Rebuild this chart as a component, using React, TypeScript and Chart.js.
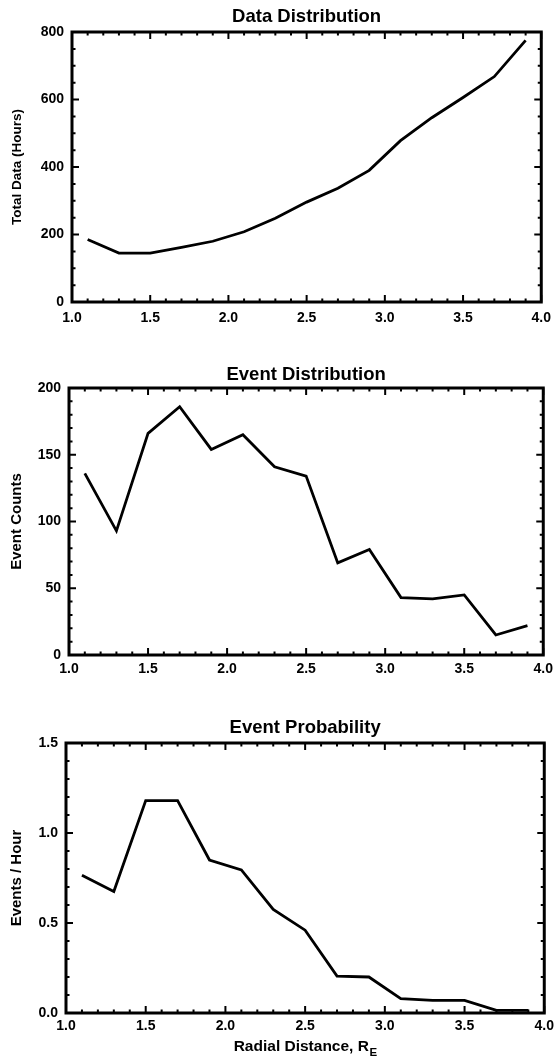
import React, { useEffect, useRef } from "react";
import { Chart, registerables } from "chart.js";

Chart.register(...registerables);

// ---- data ----
const radialDistance = [1.1, 1.3, 1.5, 1.7, 1.9, 2.1, 2.3, 2.5, 2.7, 2.9, 3.1, 3.3, 3.5, 3.7, 3.9];
const totalDataHours = [185, 145, 145, 162, 180, 208, 248, 296, 337, 390, 478, 546, 606, 668, 775];
const eventCounts = [136, 93, 166, 186, 154, 165, 141, 134, 69, 79, 43, 42, 45, 15, 22];
const eventsPerHour = [0.765, 0.675, 1.18, 1.18, 0.85, 0.795, 0.575, 0.46, 0.205, 0.2, 0.08, 0.07, 0.07, 0.015, 0.015];

const xMin = 1.0;
const xMax = 4.0;
const xMajorStep = 0.5;
const xMinorStep = 0.1;

const panelTitles = ["Data Distribution", "Event Distribution", "Event Probability"];
const yTitles = ["Total Data (Hours)", "Event Counts", "Events / Hour"];
const yMaxes = [800, 200, 1.5];
const yMajorSteps = [200, 50, 0.5];
const yMinorSteps = [50, 10, 0.1];
const yDecimals = [0, 0, 1];
const xAxisTitle = "Radial Distance, R";
const xAxisTitleSub = "E";

const FONT = "'Liberation Sans', Arial, Helvetica, sans-serif";

type Layout = {
  top: number;
  height: number;
  yWidth: number;
  padRight: number;
  titleTop: number;
  titleBottom: number;
  xHeight: number;
  xPad: number;
  yTitleSize: number;
  yTitlePad: number;
};

const layouts: Layout[] = [
  { top: 0, height: 340, yWidth: 72, padRight: 11, titleTop: 6.0, titleBottom: 3.8, xHeight: 38, xPad: 8, yTitleSize: 13.5, yTitlePad: 9 },
  { top: 340, height: 355, yWidth: 69, padRight: 11, titleTop: 23.5, titleBottom: 2.3, xHeight: 40, xPad: 6, yTitleSize: 15, yTitlePad: 8 },
  { top: 695, height: 369, yWidth: 66, padRight: 14, titleTop: 21.5, titleBottom: 4.3, xHeight: 51, xPad: 5, yTitleSize: 15, yTitlePad: 8 },
];

const seriesList = [totalDataHours, eventCounts, eventsPerHour];

function steps(min: number, max: number, step: number): number[] {
  const n = Math.round((max - min) / step);
  const out: number[] = [];
  for (let i = 0; i <= n; i++) out.push(min + i * step);
  return out;
}

const framePlugin = {
  id: "idlFrame",
  afterDraw(chart: any, _args: any, opts: any) {
    const { ctx, chartArea } = chart;
    const { left, right, top, bottom } = chartArea;
    const xs = chart.scales.x;
    const ys = chart.scales.y;
    const majorLen = 7;
    const minorLen = 3.5;
    ctx.save();
    ctx.strokeStyle = "#000";
    ctx.lineWidth = 2;
    ctx.beginPath();
    const xMaj = steps(xMin, xMax, xMajorStep);
    steps(xMin, xMax, xMinorStep).forEach((v) => {
      const isMaj = xMaj.some((m) => Math.abs(m - v) < 1e-6);
      const len = isMaj ? majorLen : minorLen;
      const px = xs.getPixelForValue(v);
      ctx.moveTo(px, bottom);
      ctx.lineTo(px, bottom - len);
      ctx.moveTo(px, top);
      ctx.lineTo(px, top + len);
    });
    const yMaj = steps(0, opts.yMax, opts.yMajor);
    steps(0, opts.yMax, opts.yMinor).forEach((v) => {
      const isMaj = yMaj.some((m) => Math.abs(m - v) < 1e-6);
      const len = isMaj ? majorLen : minorLen;
      const py = ys.getPixelForValue(v);
      ctx.moveTo(left, py);
      ctx.lineTo(left + len, py);
      ctx.moveTo(right, py);
      ctx.lineTo(right - len, py);
    });
    ctx.stroke();
    ctx.lineWidth = 3;
    ctx.strokeRect(left, top, right - left, bottom - top);

    if (opts.xTitle) {
      ctx.fillStyle = "#000";
      const mainFont = `bold 15.5px ${FONT}`;
      const subFont = `bold 11.5px ${FONT}`;
      ctx.font = mainFont;
      const w1 = ctx.measureText(opts.xTitle).width;
      ctx.font = subFont;
      const w2 = ctx.measureText(opts.xTitleSub).width;
      const cx = (left + right) / 2;
      const x0 = cx - (w1 + w2) / 2;
      const y0 = bottom + 34;
      ctx.textBaseline = "middle";
      ctx.textAlign = "left";
      ctx.font = mainFont;
      ctx.fillText(opts.xTitle, x0, y0);
      ctx.font = subFont;
      ctx.fillText(opts.xTitleSub, x0 + w1 + 0.5, y0 + 6);
    }
    ctx.restore();
  },
};

function Panel({ index }: { index: number }) {
  const ref = useRef<HTMLCanvasElement | null>(null);
  const lay = layouts[index];
  useEffect(() => {
    if (!ref.current) return;
    const dec = yDecimals[index];
    const chart = new Chart(ref.current, {
      type: "line",
      data: {
        datasets: [
          {
            data: radialDistance.map((x, i) => ({ x, y: seriesList[index][i] })),
            borderColor: "#000",
            borderWidth: 2.8,
            pointRadius: 0,
            tension: 0,
            fill: false,
          },
        ],
      },
      options: {
        responsive: false,
        animation: false,
        events: [],
        layout: { padding: { left: 0, right: lay.padRight, top: 0, bottom: 0 } },
        plugins: {
          legend: { display: false },
          tooltip: { enabled: false },
          title: {
            display: true,
            text: panelTitles[index],
            fullSize: false,
            color: "#000",
            font: { family: FONT, size: 18.5, weight: "bold" },
            padding: { top: lay.titleTop, bottom: lay.titleBottom },
          },
          idlFrame: {
            yMax: yMaxes[index],
            yMajor: yMajorSteps[index],
            yMinor: yMinorSteps[index],
            xTitle: index === 2 ? xAxisTitle : "",
            xTitleSub: xAxisTitleSub,
          },
        } as any,
        scales: {
          x: {
            type: "linear",
            min: xMin,
            max: xMax,
            grid: { display: false, drawTicks: false },
            border: { display: false },
            ticks: {
              stepSize: xMajorStep,
              autoSkip: false,
              maxRotation: 0,
              padding: lay.xPad,
              color: "#000",
              font: { family: FONT, size: 14, weight: "bold" },
              callback: (v: any) => Number(v).toFixed(1),
            },
            afterFit: (s: any) => {
              s.height = lay.xHeight;
            },
          },
          y: {
            type: "linear",
            min: 0,
            max: yMaxes[index],
            grid: { display: false, drawTicks: false },
            border: { display: false },
            ticks: {
              stepSize: yMajorSteps[index],
              autoSkip: false,
              padding: 8,
              color: "#000",
              font: { family: FONT, size: 14, weight: "bold" },
              callback: (v: any) => Number(v).toFixed(dec),
            },
            title: {
              display: true,
              text: yTitles[index],
              color: "#000",
              font: { family: FONT, size: lay.yTitleSize, weight: "bold" },
              padding: { top: lay.yTitlePad, bottom: 0 },
            },
            afterFit: (s: any) => {
              s.width = lay.yWidth;
            },
          },
        },
      },
      plugins: [framePlugin],
    });
    return () => chart.destroy();
  }, [index]);
  return (
    <canvas
      ref={ref}
      width={559}
      height={lay.height}
      style={{ position: "absolute", left: 0, top: lay.top, width: 559, height: lay.height, display: "block" }}
    />
  );
}

export default function App() {
  return (
    <div style={{ position: "absolute", left: 0, top: 0, width: 559, height: 1064, background: "#fff", overflow: "hidden" }}>
      <Panel index={0} />
      <Panel index={1} />
      <Panel index={2} />
    </div>
  );
}
